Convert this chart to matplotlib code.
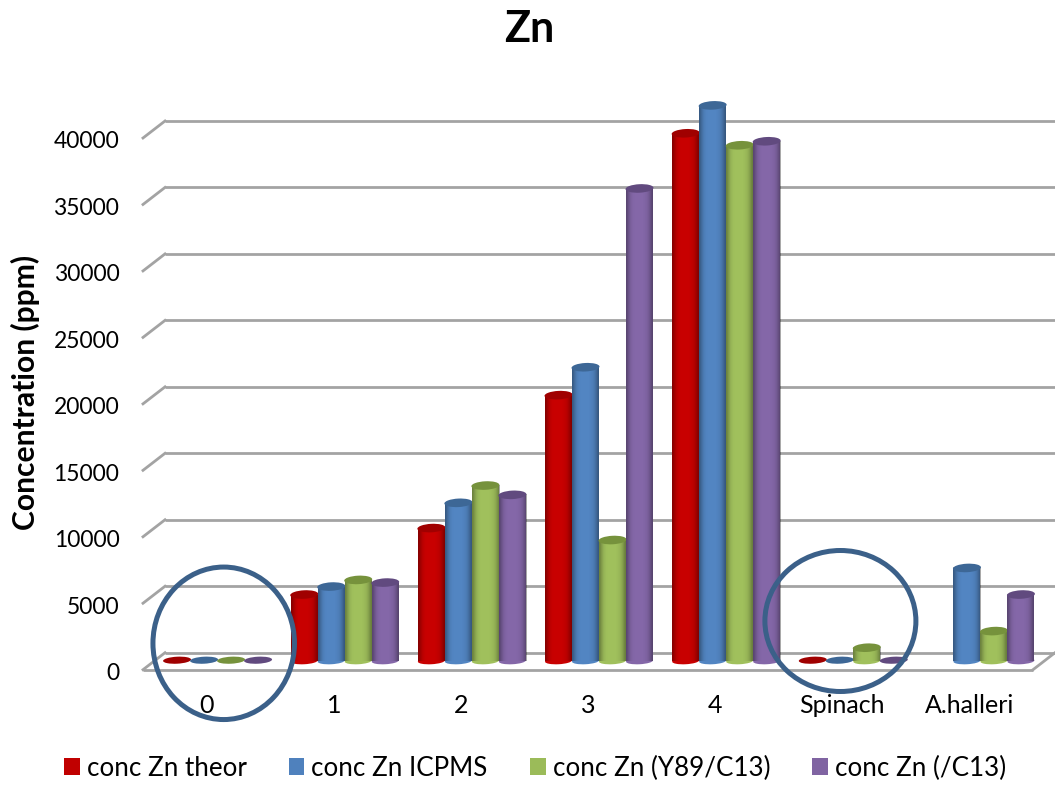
import numpy as np
import matplotlib
matplotlib.use("Agg")
import matplotlib.pyplot as plt
from matplotlib.patches import Ellipse, Patch
from matplotlib.lines import Line2D
from matplotlib.transforms import Affine2D, IdentityTransform

plt.rcParams['font.family'] = ['Lato', 'DejaVu Sans']

categories = ['0', '1', '2', '3', '4', 'Spinach', 'A.halleri']
conc_theor = [60, 5000, 10000, 20000, 39700, 60, np.nan]
conc_icpms = [60, 5600, 11900, 22100, 41800, 60, 7000]
conc_y89 = [60, 6100, 13200, 9100, 38800, 1000, 2250]
conc_c13 = [60, 5900, 12500, 35550, 39100, 60, 5000]
series_names = ['conc Zn theor', 'conc Zn ICPMS', 'conc Zn (Y89/C13)', 'conc Zn (/C13)']
series_values = [conc_theor, conc_icpms, conc_y89, conc_c13]
body_colors = ['#c80000', '#5285c2', '#a0c05c', '#8467a8']
top_colors = ['#a00000', '#3d6796', '#76923c', '#614a7f']
legend_colors = ['#c00000', '#4f81bd', '#9bbb59', '#8064a2']
y_ticks = [0, 5000, 10000, 15000, 20000, 25000, 30000, 35000, 40000]

W, H = 1055, 787
GRID = '#a3a3a3'
fig = plt.figure(figsize=(W / 100, H / 100), dpi=100)
ax = fig.add_axes([143 / W, (H - 669.7) / H, (1033 - 143) / W, (669.7 - 138) / H])
ax.set_xlim(-0.5, 6.5)
ax.set_ylim(0, 40000)
ax.autoscale(False)
for s in ax.spines.values():
    s.set_visible(False)
ax.patch.set_visible(False)

depth_x, depth_y = 22, 17
mid = Affine2D().translate(11, 8.7)
bar_tf = ax.transData + mid
back_tf = ax.transData + Affine2D().translate(depth_x, depth_y)

PX = IdentityTransform()
def to_px(x, y):
    return ax.transData.transform((x, y))

# back wall grid and side diagonals
for v in y_ticks:
    ax.plot([-0.5, 6.5], [v, v], color=GRID, lw=2.0, transform=back_tf, clip_on=False, zorder=1,
            solid_capstyle='butt')
    p0 = to_px(-0.5, v)
    fig.add_artist(Line2D([p0[0], p0[0] + depth_x], [p0[1], p0[1] + depth_y], color=GRID, lw=2.0,
                          transform=PX, zorder=0.5))
# floor
p0 = to_px(6.5, 0)
ax.plot([-0.5, 6.5], [0, 0], color=GRID, lw=2.0, clip_on=False, zorder=1.5, solid_capstyle='butt')
fig.add_artist(Line2D([p0[0], p0[0] + depth_x], [p0[1], p0[1] + depth_y], color=GRID, lw=2.0,
                      transform=PX, zorder=0.5))

# cylinders
bar_w = 27 / (890 / 7)
ell_w, ell_h, tilt = 28.0, 8.5, 3
profile = np.array([0.32, 0.20, 0.10, 0.04, 0.01, 0, 0, 0, 0, 0, 0.01, 0.03, 0.06, 0.12, 0.22, 0.34])
shade = np.zeros((1, profile.size, 4))
shade[..., 3] = profile

z = 3.0
for i, cat in enumerate(categories):
    for k, vals in enumerate(series_values):
        v = vals[i]
        if np.isnan(v):
            continue
        x = i + (k - 1.5) * bar_w
        base = to_px(x, 0) + np.array([11, 8.7])
        top = to_px(x, v) + np.array([11, 8.7])
        flat = v < 300
        if not flat:
            ax.add_patch(Ellipse(base, ell_w - 1, ell_h - 2, angle=tilt, transform=PX, fc=body_colors[k],
                                 ec='none', zorder=z, clip_on=False))
            ax.bar(x, v, width=bar_w, color=body_colors[k], transform=bar_tf, clip_on=False, zorder=z + 0.1,
                   linewidth=0)
            ax.imshow(shade, extent=(x - bar_w / 2, x + bar_w / 2, 0, v), aspect='auto', interpolation='bilinear',
                      transform=bar_tf, clip_on=False, zorder=z + 0.2)
        h = 7 if flat else ell_h
        ax.add_patch(Ellipse(top, ell_w, h, angle=tilt, transform=PX, fc=top_colors[k],
                             ec='none', zorder=z + 0.3, clip_on=False))
        z += 0.5
ax.set_xlim(-0.5, 6.5)
ax.set_ylim(0, 40000)

# axes text
ax.set_xticks(range(len(categories)), categories)
ax.set_yticks(y_ticks, [str(v) for v in y_ticks])
ax.tick_params(axis='x', length=0, pad=17.5, labelsize=18, colors='black')
ax.tick_params(axis='y', length=0, pad=17, labelsize=16.5, colors='black')
for lab in ax.get_yticklabels():
    lab.set_transform(lab.get_transform() + Affine2D().translate(0, -2))
fig.text(25 / W, (H - 392) / H, 'Concentration (ppm)', rotation=90, fontsize=21.6, fontweight='bold',
         ha='center', va='center')
fig.text(529 / W, (H - 29) / H, 'Zn', fontsize=31, fontweight='bold', ha='center', va='center')

# hand-drawn annotation circles
for cx, cy, w, h in [(223.7, 643.3, 141.5, 152.5), (840.4, 621.0, 151.0, 141.0)]:
    fig.add_artist(Ellipse((cx, H - cy), w, h, transform=PX, fc='none', ec='#3b6089', lw=3.6, zorder=50))

# legend
handles = [Patch(fc=c, ec='none', label=n) for c, n in zip(legend_colors, series_names)]
leg = ax.legend(handles=handles, ncol=4, loc='center', bbox_to_anchor=(535 / W, (H - 768) / H),
                bbox_transform=fig.transFigure, frameon=False, fontsize=18.7, borderpad=0, borderaxespad=0,
                handlelength=0.6, handleheight=0.6, handletextpad=0.27, columnspacing=1.63)
fig.savefig('out.png', dpi=100)
